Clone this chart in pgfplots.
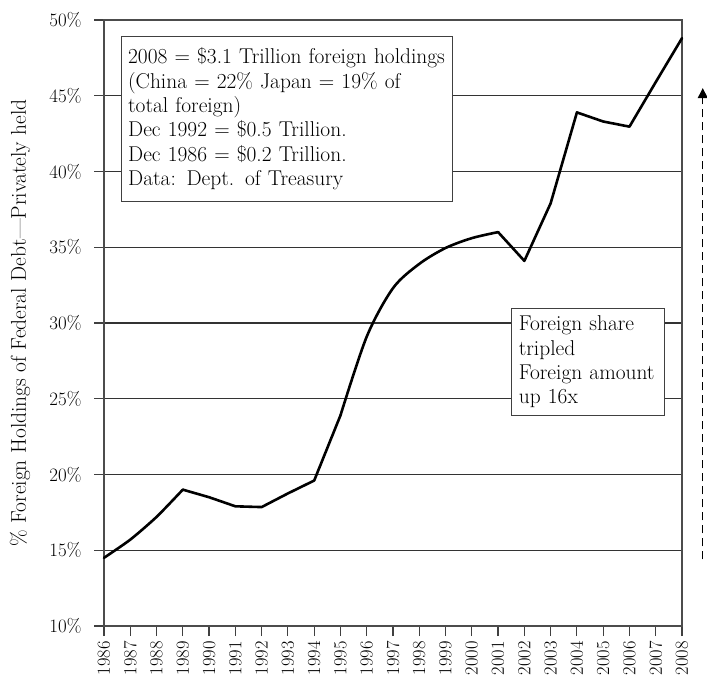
\documentclass[border=0pt]{standalone}
\usepackage{pgfplots}
\pgfplotsset{compat=1.18}
\usetikzlibrary{arrows.meta}
\pgfplotstableread{
year share
1986 14.5
1987 15.7
1988 17.2
1989 19.0
1990 18.5
1991 17.9
1992 17.85
1993 18.75
1994 19.6
1995 23.9
1996 29.1
1997 32.3
1998 33.9
1999 34.95
2000 35.6
2001 36.0
2002 34.1
2003 37.9
2004 43.9
2005 43.3
2006 42.96
2007 45.9
2008 48.8
}\share
\begin{document}
\begin{tikzpicture}
\begin{axis}[
  at={(0,0)}, anchor=south west,
  scale only axis, width=578bp, height=606bp,
  xmin=1986, xmax=2008, ymin=10, ymax=50,
  xtick={1986,...,2008}, ytick={10,15,...,50},
  xtick pos=bottom, ytick pos=left,
  tick align=outside, major tick length=10bp,
  tick style={line width=1.2bp, color=black!75},
  axis line style={line width=1.2bp, black!70},
  ymajorgrids, grid style={line width=1.2bp, black!80},
  /pgf/number format/assume math mode=true,
  xticklabel style={yshift=-3bp, rotate=90, anchor=east, inner sep=2bp, font=\fontsize{18.5}{22}\selectfont, /pgf/number format/1000 sep={}},
  yticklabel style={xshift=-9bp, font=\fontsize{19}{22}\selectfont},
  yticklabel={\pgfmathprintnumber{\tick}\%},
  ylabel={\% Foreign Holdings of Federal Debt---Privately held},
  ylabel style={at={(axis description cs:-0.1453,0.5)}, anchor=center, font=\fontsize{21.5}{24}\selectfont},
  clip=false,
]
\addplot[line width=2.6bp, black, line join=round, line cap=round, smooth, tension=0.4, restrict x to domain=1986:1989] table[x=year, y=share] {\share};
\addplot[line width=2.6bp, black, line join=round, line cap=round, restrict x to domain=1989:1995] table[x=year, y=share] {\share};
\addplot[line width=2.6bp, black, line join=round, line cap=round, smooth, tension=0.5, restrict x to domain=1995:2001] table[x=year, y=share] {\share};
\addplot[line width=2.6bp, black, line join=round, line cap=round, restrict x to domain=2001:2008] table[x=year, y=share] {\share};
\node[draw=black!75, line width=1.2bp, fill=white, anchor=north west, inner xsep=7bp, inner ysep=11.3bp, text width=317bp, align=left, font=\fontsize{21.5}{24.4}\selectfont] at (axis cs:1986.63,48.94)
{\mbox{2008 = \$3.1 Trillion foreign holdings}\\
\mbox{(China = 22\% Japan = 19\% of}\\
\mbox{total foreign)}\\
\mbox{Dec 1992 = \$0.5 Trillion.}\\
\mbox{Dec 1986 = \$0.2 Trillion.}\\
\mbox{Data: Dept. of Treasury}};
\node[draw=black!75, line width=1.2bp, fill=white, anchor=north west, inner xsep=7bp, inner ysep=7.5bp, text width=139bp, align=left, font=\fontsize{21.5}{24.4}\selectfont] at (axis cs:2001.5,31.0)
{\mbox{Foreign share}\\
\mbox{tripled}\\
\mbox{Foreign amount}\\
\mbox{up 16x}};
\draw[line width=1.2bp, dash pattern=on 8bp off 5bp, -{Triangle[length=10bp, width=10bp]}] (axis cs:2008.79,14.4) -- (axis cs:2008.79,45.5);
\end{axis}
\pgfresetboundingbox
\path[use as bounding box] (-104bp,-58bp) rectangle (603bp,626bp);
\end{tikzpicture}
\end{document}
